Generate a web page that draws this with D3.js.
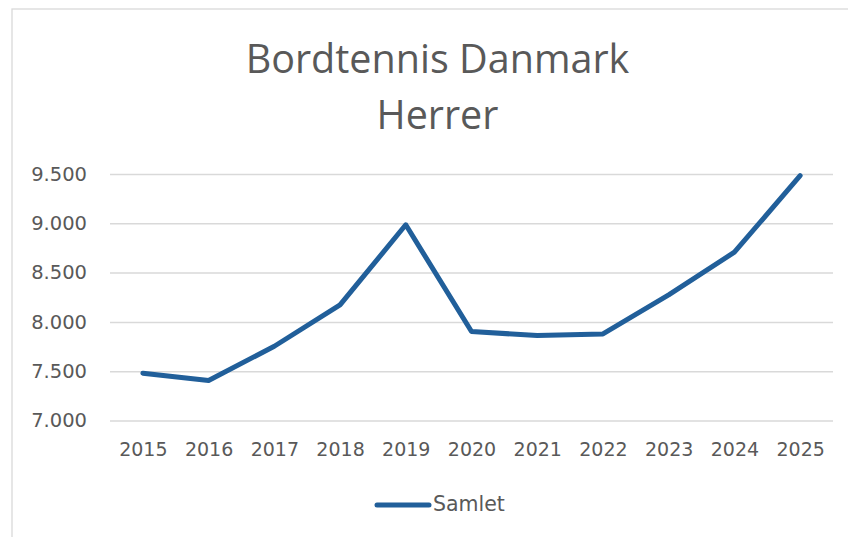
<!DOCTYPE html>
<html>
<head>
<meta charset="utf-8">
<script src="https://cdn.jsdelivr.net/npm/d3@7"></script>
<style>
  html, body { margin: 0; padding: 0; background: #ffffff; }
  svg { display: block; }
</style>
</head>
<body>
<svg id="chart" width="848" height="537"></svg>
<script>
const years = ["2015","2016","2017","2018","2019","2020","2021","2022","2023","2024","2025"];
const samlet = [7480, 7406, 7753, 8172, 8985, 7902, 7862, 7878, 8274, 8707, 9483];
const yTicks = [7000, 7500, 8000, 8500, 9000, 9500];
const titleLines = ["Bordtennis Danmark", "Herrer"];
const seriesName = "Samlet";

const svg = d3.select("#chart");
const W = 848, H = 537;
const textColor = "#595959";
const lineColor = "#215f9a";
const gridColor = "#d9d9d9";

// chart border
svg.append("rect")
  .attr("x", 12).attr("y", 9)
  .attr("width", W).attr("height", H)
  .attr("fill", "#fff").attr("stroke", gridColor).attr("stroke-width", 1.3);

const x = d3.scalePoint().domain(years).range([110, 833]).padding(0.5);
const y = d3.scaleLinear().domain([7000, 9500]).range([420.5, 174]);

const loc = d3.formatLocale({decimal: ",", thousands: ".", grouping: [3], currency: ["", ""]});
const fmt = loc.format(",.0f");

// title
const title = svg.append("text")
  .attr("text-anchor", "middle")
  .attr("fill", textColor)
  .style("font-family", "'Open Sans', 'Noto Sans', sans-serif")
  .style("font-size", "39.5px");
titleLines.forEach((t, i) => {
  title.append("tspan").attr("x", 437.5).attr("y", 73 + i * 56).text(t);
});

// y axis with gridlines
const yAxis = svg.append("g")
  .attr("transform", "translate(110,0)")
  .call(d3.axisLeft(y).tickValues(yTicks).tickFormat(fmt).tickSize(-723).tickPadding(23));
yAxis.select(".domain").remove();
yAxis.selectAll(".tick line").attr("stroke", gridColor).attr("stroke-width", 1.5);
yAxis.selectAll(".tick text")
  .attr("fill", textColor)
  .style("font-family", "'DejaVu Sans', sans-serif")
  .style("font-size", "19.5px");

// x axis
const xAxis = svg.append("g")
  .attr("transform", "translate(0,420.5)")
  .call(d3.axisBottom(x).tickSize(0).tickPadding(22));
xAxis.select(".domain").remove();
xAxis.selectAll(".tick text")
  .attr("fill", textColor)
  .style("font-family", "'DejaVu Sans', sans-serif")
  .style("font-size", "19px");

// line
const line = d3.line()
  .x((d, i) => x(years[i]))
  .y(d => y(d));
svg.append("path")
  .datum(samlet)
  .attr("d", line)
  .attr("fill", "none")
  .attr("stroke", lineColor)
  .attr("stroke-width", 5)
  .attr("stroke-linejoin", "round")
  .attr("stroke-linecap", "round");

// legend
const lg = svg.append("g");
lg.append("line")
  .attr("x1", 377).attr("x2", 429).attr("y1", 505).attr("y2", 505)
  .attr("stroke", lineColor).attr("stroke-width", 5).attr("stroke-linecap", "round");
lg.append("text")
  .attr("x", 433).attr("y", 511)
  .attr("fill", textColor)
  .style("font-family", "'DejaVu Sans', sans-serif")
  .style("font-size", "20.5px")
  .text(seriesName);
</script>
</body>
</html>
